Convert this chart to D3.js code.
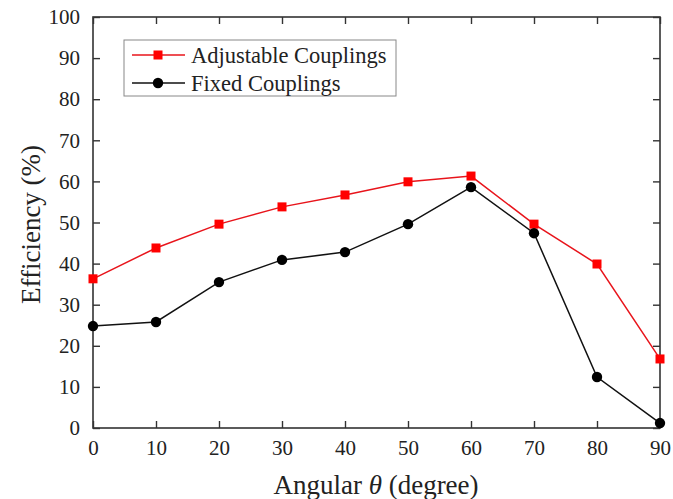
<!DOCTYPE html>
<html><head><meta charset="utf-8">
<script src="https://cdn.jsdelivr.net/npm/d3@7"></script>
<style>body{margin:0;background:#fff}svg{display:block}text{font-family:"Liberation Serif","Times New Roman",serif;fill:#222}</style>
</head><body><svg id="c" width="673" height="499"></svg>
<script>
const angles = [0,10,20,30,40,50,60,70,80,90];
const adjustable = [36.3,43.8,49.6,53.8,56.7,59.9,61.3,49.6,39.9,16.8];
const fixed = [24.8,25.8,35.5,40.9,42.8,49.6,58.6,47.4,12.4,1.2];
const xTicks = [0,10,20,30,40,50,60,70,80,90];
const yTicks = [0,10,20,30,40,50,60,70,80,90,100];
const seriesNames = ["Adjustable Couplings","Fixed Couplings"];

const svg = d3.select("#c");
const L=93,R=660,T=17,B=428;
const x = d3.scaleLinear().domain([0,90]).range([L,R]);
const y = d3.scaleLinear().domain([0,100]).range([B,T]);
const axisColor="#333";

svg.append("rect").attr("x",L).attr("y",T).attr("width",R-L).attr("height",B-T)
  .attr("fill","none").attr("stroke",axisColor).attr("stroke-width",1.6);

function styleAxis(g){
  g.select(".domain").remove();
  g.selectAll(".tick line").attr("stroke",axisColor).attr("stroke-width",1.4);
  g.selectAll("text").style("font-size","21px").attr("fill","#222");
}
svg.append("g").attr("transform",`translate(0,${B})`)
  .call(d3.axisBottom(x).tickValues(xTicks).tickSize(-7).tickPadding(12).tickFormat(d3.format("d")))
  .call(styleAxis);
svg.append("g").attr("transform",`translate(0,${T})`)
  .call(d3.axisTop(x).tickValues(xTicks).tickSize(-7).tickFormat(""))
  .call(styleAxis);
svg.append("g").attr("transform",`translate(${L},0)`)
  .call(d3.axisLeft(y).tickValues(yTicks).tickSize(-7).tickPadding(13).tickFormat(d3.format("d")))
  .call(styleAxis);
svg.append("g").attr("transform",`translate(${R},0)`)
  .call(d3.axisRight(y).tickValues(yTicks).tickSize(-7).tickFormat(""))
  .call(styleAxis);

const line = d3.line().x((d,i)=>x(angles[i])).y(d=>y(d));
const red="#e8141b", blk="#111";
svg.append("path").datum(adjustable).attr("d",line).attr("fill","none").attr("stroke",red).attr("stroke-width",1.5);
svg.append("path").datum(fixed).attr("d",line).attr("fill","none").attr("stroke",blk).attr("stroke-width",1.5);
const s=9;
svg.selectAll(".sq").data(adjustable).enter().append("rect")
  .attr("x",(d,i)=>x(angles[i])-s/2).attr("y",d=>y(d)-s/2).attr("width",s).attr("height",s).attr("fill","#f00");
svg.selectAll(".ci").data(fixed).enter().append("circle")
  .attr("cx",(d,i)=>x(angles[i])).attr("cy",d=>y(d)).attr("r",5.2).attr("fill","#000");

const lg = svg.append("g");
lg.append("rect").attr("x",124).attr("y",40).attr("width",272).attr("height",56)
  .attr("fill","#fff").attr("stroke","#888").attr("stroke-width",1);
const rows=[55,83];
[0,1].forEach(i=>{
  const c = i===0?red:blk;
  lg.append("line").attr("x1",132).attr("x2",185).attr("y1",rows[i]).attr("y2",rows[i]).attr("stroke",c).attr("stroke-width",1.5);
  if(i===0) lg.append("rect").attr("x",158-s/2).attr("y",rows[i]-s/2).attr("width",s).attr("height",s).attr("fill","#f00");
  else lg.append("circle").attr("cx",158).attr("cy",rows[i]).attr("r",5.2).attr("fill","#000");
  lg.append("text").attr("x",191).attr("y",rows[i]).attr("dy","0.35em").style("font-size","22.5px").text(seriesNames[i]);
});

svg.append("text").attr("x",376).attr("y",494).attr("text-anchor","middle").style("font-size","27px")
  .html('Angular <tspan font-style="italic">θ</tspan> (degree)');
svg.append("text").attr("transform",`translate(40,${(T+B)/2+2}) rotate(-90)`).attr("text-anchor","middle").style("font-size","27px")
  .text("Efficiency (%)");
</script></body></html>
